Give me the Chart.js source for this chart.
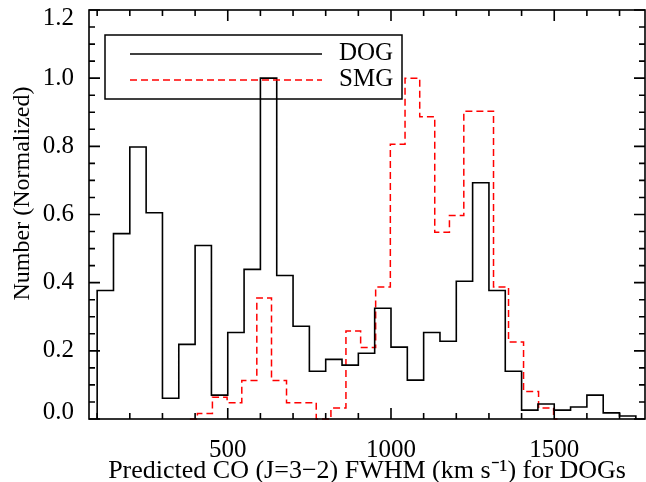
<!DOCTYPE html>
<html>
<head>
<meta charset="utf-8">
<script src="https://cdn.jsdelivr.net/npm/chart.js@4.4.0/dist/chart.umd.min.js"></script>
<style>
html,body{margin:0;padding:0;background:#fff;}
#wrap{width:646px;height:482px;position:relative;}
</style>
</head>
<body>
<div id="wrap"><canvas id="c" width="646" height="482"></canvas></div>
<script>
// ---- data ----
const seriesNames = ['DOG', 'SMG'];
const xTitle = 'Predicted CO (J=3\u22122) FWHM (km s\u207B\u00B9) for DOGs';
const yTitle = 'Number (Normalized)';
const xTickValues = [500, 1000, 1500];
const yTickValues = [0, 0.2, 0.4, 0.6, 0.8, 1.0, 1.2];

// DOG histogram: bin edges (km/s) and normalized counts per bin
const dogBinEdges = [100,150,200,250,300,350,400,450,500,550,600,650,700,750,800,850,900,950,
  1000,1050,1100,1150,1200,1250,1300,1350,1400,1450,1500,1550,1600,1650,1700,1750];
const dogValues = [0.377,0.544,0.798,0.605,0.061,0.219,0.509,0.070,0.254,0.439,1.0,0.421,0.272,0.140,
  0.175,0.158,0.193,0.325,0.211,0.114,0.254,0.228,0.404,0.693,0.377,0.140,0.026,0.044,0.026,0.035,
  0.070,0.018,0.009];

// SMG histogram: bin edges (km/s) and normalized counts per bin
const smgBinEdges = [384,407,453,498,543,589,634,680,725,771,816,862,907,953,998,1043,1088,1134,1179,
  1223,1269,1314,1360,1406,1452,1498,1510];
const smgValues = [0,0.016,0.064,0.048,0.113,0.355,0.113,0.048,0.048,0,0.032,0.258,0.210,0.387,0.806,
  1.0,0.887,0.548,0.597,0.903,0.903,0.387,0.226,0.081,0.032,0];

// ---- helpers ----
function histPoints(edges, values) {
  const pts = [{x: edges[0], y: 0}];
  values.forEach((v, i) => pts.push({x: edges[i], y: v}));
  pts.push({x: edges[edges.length - 1], y: 0});
  return pts;
}

const SERIF = '"Liberation Serif", "Times New Roman", serif';

const frameTicks = {
  id: 'frameTicks',
  afterDatasetsDraw(chart, args, o) {
    const {ctx, chartArea: ca, scales: {x, y}} = chart;
    ctx.save();
    ctx.strokeStyle = '#000';
    ctx.lineWidth = o.lineWidth;
    ctx.strokeRect(ca.left, ca.top, ca.right - ca.left, ca.bottom - ca.top);
    ctx.beginPath();
    o.xMinor.forEach(v => {
      const px = x.getPixelForValue(v);
      const len = o.xMajor.includes(v) ? o.major : o.minor;
      ctx.moveTo(px, ca.bottom); ctx.lineTo(px, ca.bottom - len);
      ctx.moveTo(px, ca.top); ctx.lineTo(px, ca.top + len);
    });
    o.yMinor.forEach(v => {
      const py = y.getPixelForValue(v);
      const len = o.yMajor.some(m => Math.abs(m - v) < 1e-9) ? o.major : o.minor;
      ctx.moveTo(ca.left, py); ctx.lineTo(ca.left + len, py);
      ctx.moveTo(ca.right, py); ctx.lineTo(ca.right - len, py);
    });
    ctx.stroke();
    ctx.restore();
  }
};

const boxLegend = {
  id: 'boxLegend',
  afterDraw(chart, args, o) {
    const {ctx, chartArea: ca} = chart;
    const bx = ca.left + o.offsetX, by = ca.top + o.offsetY;
    ctx.save();
    ctx.strokeStyle = '#000';
    ctx.lineWidth = 1.5;
    ctx.strokeRect(bx, by, o.width, o.height);
    chart.data.datasets.forEach((ds, i) => {
      const ly = by + o.rowY[i];
      ctx.beginPath();
      ctx.setLineDash(ds.borderDash || []);
      ctx.strokeStyle = ds.borderColor;
      ctx.lineWidth = ds.borderWidth;
      ctx.moveTo(bx + o.lineX0, ly);
      ctx.lineTo(bx + o.lineX1, ly);
      ctx.stroke();
      ctx.setLineDash([]);
      ctx.fillStyle = '#000';
      ctx.font = o.fontSize + 'px ' + SERIF;
      ctx.textBaseline = 'middle';
      ctx.textAlign = 'left';
      ctx.fillText(ds.label, bx + o.textX, ly - 1);
    });
    ctx.restore();
  }
};

const minorX = [];
for (let v = 100; v <= 1700; v += 100) minorX.push(v);
const minorY = [];
for (let k = 0; k <= 24; k++) minorY.push(k * 0.05);

// end labels of the y axis sit inside the frame, as in the reference
const yLast = yTickValues.length - 1;
function yTickLabel(v, i) {
  const s = Number(v).toFixed(1);
  if (i === 0) return [s, ''];
  if (i === yLast) return ['', s];
  return s;
}
function yTickFont(c) {
  const i = c.index;
  let lh = 1.2;
  if (i === 0) lh = 14 / 25;
  else if (i === yLast) lh = 16 / 25;
  return {family: SERIF, size: 25, lineHeight: lh};
}

new Chart(document.getElementById('c'), {
  type: 'line',
  data: {
    datasets: [
      {label: seriesNames[0], data: histPoints(dogBinEdges, dogValues), stepped: 'before',
       borderColor: '#000000', borderWidth: 1.6, pointRadius: 0, fill: false, clip: false},
      {label: seriesNames[1], data: histPoints(smgBinEdges, smgValues), stepped: 'before',
       borderColor: '#ff0000', borderWidth: 1.5, borderDash: [7, 4], pointRadius: 0, fill: false, clip: false}
    ]
  },
  options: {
    responsive: false,
    animation: false,
    devicePixelRatio: 1,
    layout: {padding: {top: 10, right: 1, left: 0, bottom: 0}},
    plugins: {
      legend: {display: false},
      tooltip: {enabled: false},
      frameTicks: {lineWidth: 1.6, major: 11, minor: 6, xMajor: xTickValues, xMinor: minorX,
                   yMajor: yTickValues, yMinor: minorY},
      boxLegend: {offsetX: 16, offsetY: 25, width: 297, height: 64, rowY: [19, 45],
                  lineX0: 25, lineX1: 217, textX: 234, fontSize: 25}
    },
    scales: {
      x: {
        type: 'linear', min: 75, max: 1778,
        grid: {display: false}, border: {display: false},
        afterBuildTicks: s => { s.ticks = xTickValues.map(v => ({value: v})); },
        afterFit: s => { s.height = 63; s.paddingLeft = 0; s.paddingRight = 0; },
        ticks: {font: {family: SERIF, size: 25}, color: '#000', padding: 8, maxRotation: 0, autoSkip: false,
                callback: v => String(v)},
        title: {display: true, text: xTitle, color: '#000', font: {family: SERIF, size: 26, lineHeight: 1.0},
                padding: {top: 0, bottom: -2}}
      },
      y: {
        min: 0, max: 1.2,
        grid: {display: false}, border: {display: false},
        afterBuildTicks: s => { s.ticks = yTickValues.map(v => ({value: v})); },
        afterFit: s => { s.width = 89; s.paddingTop = 0; s.paddingBottom = 0; },
        ticks: {font: yTickFont, color: '#000', padding: 7, callback: yTickLabel},
        title: {display: true, text: '\u00A0\u00A0\u00A0\u00A0\u00A0\u00A0\u00A0' + yTitle, color: '#000',
                font: {family: SERIF, size: 24, lineHeight: 1.2},
                padding: {top: 8, bottom: 0}}
      }
    }
  },
  plugins: [frameTicks, boxLegend]
});
</script>
</body>
</html>
